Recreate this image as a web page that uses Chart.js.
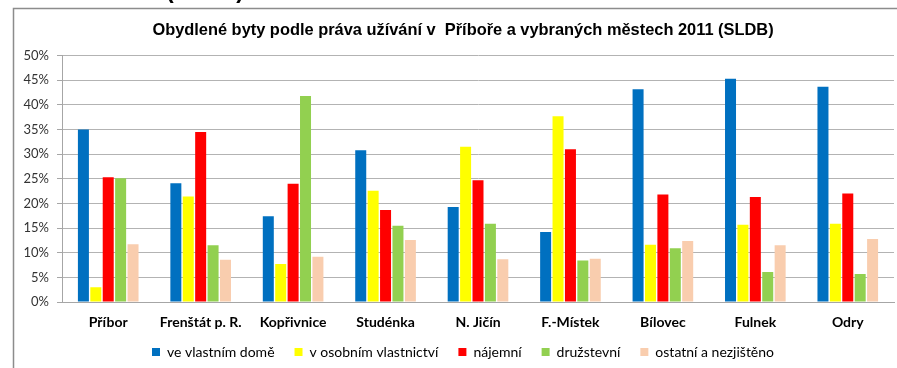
<!DOCTYPE html>
<html lang="cs">
<head>
    <meta charset="UTF-8">
    <meta name="viewport" content="width=device-width, initial-scale=1.0">
    <title>Obydlené byty</title>
    <style>
        html, body { margin: 0; padding: 0; background: #fff; }
        #wrap { width: 897px; height: 368px; }
    </style>
</head>
<body>
    <div id="wrap">
        <canvas id="myChart" width="897" height="368"></canvas>
    </div>
<script src="https://cdn.jsdelivr.net/npm/chart.js"></script>
<script>
    // obce (kategorie osy x)
    const towns = ['Příbor', 'Frenštát p. R.', 'Kopřivnice', 'Studénka', 'N. Jičín', 'F.-Místek', 'Bílovec', 'Fulnek', 'Odry'];

    // podíly bytů v %
    const vlastniDum     = [35.0, 24.1, 17.4, 30.8, 19.3, 14.2, 43.2, 45.3, 43.7];
    const osobniVlast    = [ 3.0, 21.4,  7.7, 22.6, 31.5, 37.7, 11.6, 15.7, 15.9];
    const najemni        = [25.3, 34.5, 24.0, 18.7, 24.7, 31.0, 21.8, 21.3, 22.0];
    const druzstevni     = [25.1, 11.5, 41.8, 15.5, 15.9,  8.4, 10.9,  6.1,  5.7];
    const ostatni        = [11.7,  8.6,  9.2, 12.6,  8.7,  8.8, 12.4, 11.5, 12.8];

    const seriesNames = ['ve vlastním domě', 'v osobním vlastnictví', 'nájemní', 'družstevní', 'ostatní a nezjištěno'];
    const seriesColors = ['#0070C0', '#FFFF00', '#FF0000', '#92D050', '#F9CDAE'];

    const yTicks = ['0%', '5%', '10%', '15%', '20%', '25%', '30%', '35%', '40%', '45%', '50%'];

    const allSeries = [vlastniDum, osobniVlast, najemni, druzstevni, ostatni];

    // ramecek grafu a useknuty nadpis nahore
    const framePlugin = {
        id: 'frame',
        beforeDraw(chart) {
            const ctx = chart.ctx;
            ctx.save();
            ctx.fillStyle = '#fff';
            ctx.fillRect(0, 0, chart.width, chart.height);
            ctx.strokeStyle = '#8c8c8c';
            ctx.lineWidth = 1.5;
            ctx.beginPath();
            ctx.moveTo(13.5, chart.height);
            ctx.lineTo(13.5, 8.5);
            ctx.lineTo(chart.width, 8.5);
            ctx.stroke();
            ctx.fillStyle = '#000';
            ctx.font = 'bold 23px "Liberation Sans", Arial, sans-serif';
            ctx.textBaseline = 'alphabetic';
            ctx.fillText('(SLDB)', 166, -2);
            ctx.restore();
        }
    };

    // popisky os se nemaji orezavat na velikost osy
    const noLabelClip = (scale) => { scale._computeLabelArea = () => undefined; };

    const data = {
        labels: towns,
        datasets: allSeries.map((vals, i) => ({
            label: seriesNames[i],
            data: vals,
            backgroundColor: seriesColors[i],
            borderWidth: 0,
            barPercentage: 0.887,
            categoryPercentage: 0.671
        }))
    };

    const config = {
        type: 'bar',
        data,
        plugins: [framePlugin],
        options: {
            responsive: false,
            animation: false,
            layout: {
                padding: { left: 32, right: 3, top: 8, bottom: -1 }
            },
            plugins: {
                title: {
                    display: true,
                    text: 'Obydlené byty podle práva užívání v  Příboře a vybraných městech 2011 (SLDB)',
                    color: '#000',
                    font: { family: '"Liberation Sans", Arial, sans-serif', size: 16.4, weight: 'bold', lineHeight: 1.2 },
                    padding: { top: 13, bottom: 15 }
                },
                legend: {
                    position: 'bottom',
                    labels: {
                        boxWidth: 8,
                        boxHeight: 8,
                        padding: 20,
                        color: '#000',
                        font: { family: 'Lato, sans-serif', size: 14 }
                    }
                },
                tooltip: { enabled: false }
            },
            scales: {
                x: {
                    afterFit(scale) { scale.height = 23; noLabelClip(scale); },
                    grid: { display: false, drawTicks: false },
                    border: { color: '#a6a6a6', width: 1 },
                    ticks: {
                        color: '#000',
                        padding: 12,
                        maxRotation: 0,
                        autoSkip: false,
                        font: { family: 'Lato, sans-serif', size: 14, weight: 'bold' }
                    }
                },
                y: {
                    min: 0,
                    max: 50,
                    afterFit(scale) { scale.width = 30; noLabelClip(scale); },
                    grid: {
                        color: '#b3b3b3',
                        tickLength: 5,
                        tickColor: '#a6a6a6'
                    },
                    border: { color: '#a6a6a6', width: 1 },
                    ticks: {
                        stepSize: 5,
                        color: '#333',
                        padding: 8,
                        font: { family: 'Lato, sans-serif', size: 13 },
                        callback: (value) => yTicks[Math.round(value / 5)]
                    }
                }
            }
        }
    };

    var myChart = new Chart(document.getElementById('myChart'), config);
</script>
</body>
</html>
